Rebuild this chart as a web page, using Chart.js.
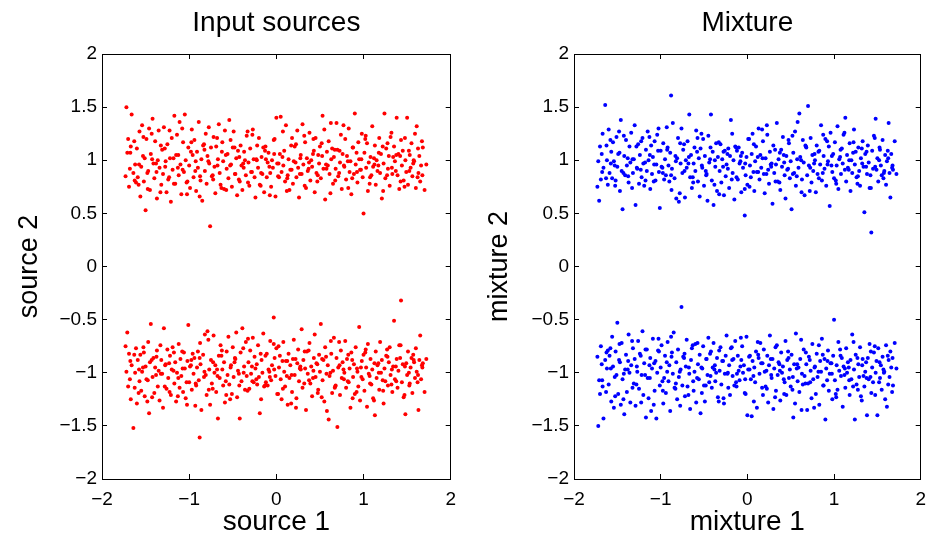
<!DOCTYPE html>
<html>
<head>
<meta charset="utf-8">
<title>Input sources / Mixture</title>
<script src="https://cdn.jsdelivr.net/npm/chart.js@4.4.1/dist/chart.umd.min.js"></script>
<style>
  html, body { margin: 0; padding: 0; background: #fff; }
  #wrap { position: relative; width: 940px; height: 541px; }
  canvas { position: absolute; top: 0; }
  #left { left: 0; }
  #right { left: 470px; }
</style>
</head>
<body>
<div id="wrap">
  <canvas id="left" width="470" height="541"></canvas>
  <canvas id="right" width="470" height="541"></canvas>
</div>
<script>
// ticks
const xTicks = [-2, -1, 0, 1, 2];
const yTicks = [-2, -1.5, -1, -0.5, 0, 0.5, 1, 1.5, 2];

// source points, upper cluster (around +1)
const sourceUpper = [
  [-1.73,0.85],[-1.72,1.50],[-1.71,1.07],[-1.70,1.20],[-1.69,0.75],[-1.67,1.13],[-1.66,1.43],[-1.64,0.88],
  [-1.62,0.96],[-1.61,0.79],[-1.60,1.11],[-1.59,0.84],[-1.57,1.27],[-1.56,0.66],[-1.55,0.94],[-1.54,1.33],
  [-1.52,0.80],[-1.51,1.02],[-1.50,0.53],[-1.49,1.20],[-1.47,0.90],[-1.46,1.30],[-1.45,0.72],[-1.44,1.06],
  [-1.42,1.39],[-1.41,0.97],[-1.40,0.83],[-1.39,1.18],[-1.37,0.64],[-1.36,1.00],[-1.35,1.28],[-1.34,0.93],
  [-1.32,0.77],[-1.31,1.10],[-1.30,0.87],[-1.29,1.31],[-1.27,0.99],[-1.26,0.70],[-1.25,1.15],[-1.24,0.82],
  [-1.22,1.02],[-1.21,0.61],[-1.20,1.21],[-1.19,0.91],[-1.17,1.42],[-1.16,0.78],[-1.15,1.05],[-1.14,1.24],
  [-1.12,0.86],[-1.11,1.36],[-1.10,0.96],[-1.09,0.68],[-1.07,1.17],[-1.06,0.89],[-1.05,1.43],[-1.04,1.00],
  [-1.02,0.80],[-1.01,1.12],[-1.00,0.95],[-0.99,0.74],[-0.97,1.29],[-0.96,1.05],[-0.95,0.84],[-0.94,1.19],
  [-0.92,0.71],[-0.91,1.08],[-0.90,0.93],[-0.89,1.36],[-0.87,0.81],[-0.86,1.01],[-0.85,0.62],[-0.84,1.14],
  [-0.82,0.90],[-0.81,1.25],[-0.80,0.78],[-0.79,1.04],[-0.77,0.97],[-0.76,0.38],[-0.75,1.12],[-0.74,0.85],
  [-0.72,1.22],[-0.71,0.94],[-0.70,0.69],[-0.69,1.13],[-0.67,1.01],[-0.66,1.34],[-0.65,0.88],[-0.64,0.77],
  [-0.62,1.17],[-0.61,0.99],[-0.60,0.73],[-0.59,1.28],[-0.57,0.92],[-0.56,1.06],[-0.55,0.83],[-0.54,1.38],
  [-0.52,0.96],[-0.51,0.75],[-0.50,1.12],[-0.49,1.27],[-0.47,0.87],[-0.46,1.02],[-0.45,0.67],[-0.44,1.09],
  [-0.42,0.80],[-0.41,1.14],[-0.40,0.95],[-0.39,0.72],[-0.37,1.08],[-0.36,1.00],[-0.35,0.86],[-0.34,1.23],
  [-0.32,0.98],[-0.31,0.76],[-0.30,1.11],[-0.29,0.89],[-0.27,1.29],[-0.26,1.01],[-0.25,0.84],[-0.24,0.65],
  [-0.22,1.14],[-0.21,0.93],[-0.20,1.21],[-0.19,0.77],[-0.17,1.03],[-0.16,0.87],[-0.15,1.12],[-0.14,0.70],
  [-0.12,1.01],[-0.11,0.84],[-0.10,0.98],[-0.09,1.07],[-0.07,0.88],[-0.06,0.75],[-0.05,1.00],[-0.04,0.93],
  [-0.02,1.20],[-0.01,0.66],[0.00,1.40],[0.01,0.97],[0.03,0.84],[0.04,1.06],[0.05,1.41],[0.06,0.89],
  [0.08,0.95],[0.09,1.09],[0.10,0.80],[0.11,1.33],[0.13,0.86],[0.14,1.01],[0.15,0.72],[0.16,0.91],
  [0.18,1.21],[0.19,0.78],[0.20,0.99],[0.21,1.13],[0.23,0.84],[0.24,1.28],[0.25,0.93],[0.26,0.65],
  [0.28,1.05],[0.29,0.87],[0.30,1.34],[0.31,0.96],[0.33,1.17],[0.34,0.74],[0.35,1.02],[0.36,0.90],
  [0.38,1.26],[0.39,0.81],[0.40,1.00],[0.41,0.94],[0.43,1.09],[0.44,0.70],[0.45,1.21],[0.46,0.88],
  [0.48,1.05],[0.49,0.97],[0.50,1.13],[0.51,0.83],[0.53,1.42],[0.54,0.92],[0.55,1.29],[0.56,0.63],
  [0.58,1.08],[0.59,0.95],[0.60,1.18],[0.61,0.87],[0.63,1.01],[0.64,1.11],[0.65,0.78],[0.66,1.03],
  [0.68,0.92],[0.69,1.35],[0.70,1.10],[0.71,0.85],[0.73,0.98],[0.74,1.24],[0.75,0.73],[0.76,1.06],
  [0.78,0.94],[0.79,1.20],[0.80,0.82],[0.81,1.04],[0.83,1.30],[0.84,0.89],[0.85,0.99],[0.86,0.68],
  [0.88,1.12],[0.89,0.87],[0.90,1.44],[0.91,0.96],[0.93,0.79],[0.94,1.17],[0.95,1.01],[0.96,0.91],
  [0.98,1.25],[0.99,0.84],[1.00,0.50],[1.01,1.07],[1.03,0.93],[1.04,1.16],[1.05,0.71],[1.06,0.98],
  [1.08,1.03],[1.09,0.86],[1.10,1.32],[1.11,0.94],[1.13,1.14],[1.14,0.77],[1.15,1.00],[1.16,0.90],
  [1.18,1.21],[1.19,0.88],[1.20,1.06],[1.21,0.64],[1.23,0.97],[1.24,1.44],[1.25,0.83],[1.26,1.11],
  [1.28,0.92],[1.29,1.04],[1.30,0.76],[1.31,1.22],[1.33,0.87],[1.34,1.03],[1.35,1.13],[1.36,0.99],
  [1.38,1.40],[1.39,0.86],[1.40,1.06],[1.41,0.73],[1.43,1.19],[1.44,0.95],[1.45,1.09],[1.46,0.81],
  [1.48,1.00],[1.49,0.89],[1.50,1.40],[1.51,0.77],[1.53,1.05],[1.54,0.93],[1.55,1.16],[1.56,0.85],
  [1.58,0.99],[1.59,1.25],[1.60,0.74],[1.61,1.32],[1.63,0.88],[1.64,1.04],[1.65,0.80],[1.66,0.95],
  [1.68,1.12],[1.70,0.72],[1.72,0.96],
  [-1.68,0.92],[-1.63,1.18],[-1.58,0.77],[-1.53,1.04],[-1.48,0.88],[-1.43,1.25],[-1.38,0.97],[-1.33,0.70],[-1.28,1.11],[-1.23,0.84],
  [-1.18,1.02],[-1.13,0.93],[-1.08,1.30],[-1.03,0.79],[-0.98,1.08],[-0.93,0.90],[-0.88,0.66],[-0.83,1.15],[-0.78,0.99],[-0.73,0.86],
  [-0.68,1.21],[-0.63,0.74],[-0.58,1.05],[-0.53,0.95],[-0.48,1.12],[-0.43,0.82],[-0.38,0.97],[-0.33,1.27],[-0.28,0.89],[-0.23,1.01],
  [-0.18,0.76],[-0.13,1.09],[-0.08,0.94],[-0.03,1.19],[0.02,0.85],[0.07,1.03],[0.12,0.71],[0.17,1.14],[0.22,0.98],[0.27,0.87],
  [0.32,1.23],[0.37,0.92],[0.42,1.06],[0.47,0.80],[0.52,1.16],[0.57,0.96],[0.62,0.69],[0.67,1.10],[0.72,0.88],[0.77,1.33],
  [0.82,0.99],[0.87,0.83],[0.92,1.07],[0.97,0.91],[1.02,1.20],[1.07,0.78],[1.12,1.02],[1.17,0.95],[1.22,1.13],[1.27,0.86],
  [1.32,1.26],[1.37,0.90],[1.42,1.04],[1.47,0.75],[1.52,1.09],[1.57,0.97],[1.62,0.84],[1.67,1.18],
  [-1.675,1.07],[-1.625,0.81],[-1.575,0.96],[-1.525,1.22],[-1.475,0.73],[-1.425,1.01],[-1.375,0.89],[-1.325,1.14],[-1.275,0.94],[-1.225,1.28],
  [-1.175,0.78],[-1.125,1.05],[-1.075,0.91],[-1.025,0.68],[-0.975,1.17],[-0.925,0.99],[-0.875,0.85],[-0.825,1.10],[-0.775,1.31],[-0.725,0.82],
  [-0.675,0.95],[-0.625,1.08],[-0.575,0.72],[-0.525,1.19],[-0.475,0.87],[-0.425,1.03],[-0.375,0.93],[-0.325,0.79],[-0.275,1.24],[-0.225,1.00],
  [-0.175,0.88],[-0.125,1.13],[-0.075,0.67],[-0.025,1.06],[0.025,0.97],[0.075,1.27],[0.125,0.83],[0.175,0.91],[0.225,1.15],[0.275,1.02],
  [0.325,0.76],[0.375,0.98],[0.425,1.20],[0.475,0.86],[0.525,1.04],[0.575,0.92],[0.625,1.35],[0.675,0.81],[0.725,1.09],[0.775,0.95],
  [0.825,0.74],[0.875,1.12],[0.925,0.89],[0.975,1.01],[1.025,1.23],[1.075,0.84],[1.125,0.96],[1.175,1.07],[1.225,0.71],[1.275,1.16],
  [1.325,0.93],[1.375,1.05],[1.425,0.80],[1.475,1.21],[1.525,0.90],[1.575,1.00],[1.625,1.11],[1.675,0.86]
];

// source points, lower cluster (around -1)
const sourceLower = [
  [-1.73,-0.75],[-1.72,-0.99],[-1.71,-0.62],[-1.70,-1.13],[-1.69,-0.82],[-1.67,-1.25],[-1.66,-0.93],[-1.64,-1.52],
  [-1.62,-1.00],[-1.61,-0.77],[-1.60,-1.29],[-1.59,-0.88],[-1.57,-1.08],[-1.56,-0.83],[-1.55,-1.17],[-1.54,-0.99],
  [-1.52,-0.81],[-1.51,-1.22],[-1.50,-0.94],[-1.49,-1.06],[-1.47,-0.71],[-1.46,-1.38],[-1.45,-0.90],[-1.44,-0.54],
  [-1.42,-1.04],[-1.41,-0.86],[-1.40,-1.19],[-1.39,-0.95],[-1.37,-0.79],[-1.36,-1.13],[-1.35,-0.98],[-1.34,-1.26],
  [-1.32,-0.88],[-1.31,-1.01],[-1.30,-1.33],[-1.29,-0.58],[-1.27,-0.92],[-1.26,-1.15],[-1.25,-0.78],[-1.24,-1.05],
  [-1.22,-0.84],[-1.21,-1.21],[-1.20,-0.97],[-1.19,-0.76],[-1.17,-1.10],[-1.16,-0.90],[-1.15,-1.27],[-1.14,-1.00],
  [-1.12,-0.73],[-1.11,-1.14],[-1.10,-0.87],[-1.09,-1.03],[-1.07,-1.18],[-1.06,-0.81],[-1.05,-0.96],[-1.04,-1.24],
  [-1.02,-0.89],[-1.01,-0.55],[-1.00,-1.09],[-0.99,-0.94],[-0.97,-1.16],[-0.96,-0.82],[-0.95,-1.01],[-0.94,-0.86],
  [-0.92,-1.12],[-0.91,-0.95],[-0.90,-0.80],[-0.89,-1.07],[-0.88,-1.61],[-0.87,-0.92],[-0.86,-1.35],[-0.84,-0.83],
  [-0.82,-0.64],[-0.81,-1.02],[-0.80,-1.21],[-0.79,-0.61],[-0.77,-0.97],[-0.76,-1.30],[-0.75,-0.88],[-0.74,-1.10],
  [-0.72,-0.65],[-0.71,-1.00],[-0.70,-0.93],[-0.69,-1.18],[-0.67,-1.43],[-0.66,-0.84],[-0.65,-1.05],[-0.64,-0.74],
  [-0.62,-0.97],[-0.61,-1.12],[-0.60,-0.90],[-0.59,-1.28],[-0.57,-0.80],[-0.56,-1.02],[-0.55,-0.66],[-0.54,-1.11],
  [-0.52,-0.93],[-0.51,-1.20],[-0.50,-0.76],[-0.49,-1.04],[-0.47,-0.87],[-0.46,-0.62],[-0.45,-1.23],[-0.44,-0.98],
  [-0.42,-1.43],[-0.41,-0.81],[-0.40,-1.08],[-0.39,-0.58],[-0.37,-0.94],[-0.36,-1.16],[-0.35,-0.71],[-0.34,-1.03],
  [-0.32,-0.90],[-0.31,-1.15],[-0.30,-0.79],[-0.29,-1.01],[-0.27,-0.67],[-0.26,-1.09],[-0.25,-0.85],[-0.24,-0.96],
  [-0.22,-1.11],[-0.21,-0.74],[-0.20,-1.04],[-0.19,-1.38],[-0.17,-0.88],[-0.16,-1.00],[-0.15,-0.63],[-0.14,-1.13],
  [-0.12,-1.09],[-0.11,-0.82],[-0.10,-1.12],[-0.09,-0.97],[-0.07,-0.70],[-0.06,-1.07],[-0.05,-0.93],[-0.03,-0.48],
  [-0.02,-0.86],[-0.01,-1.03],[0.00,-0.77],[0.01,-1.20],[0.03,-0.95],[0.04,-0.84],[0.05,-1.06],[0.06,-1.25],
  [0.08,-0.71],[0.09,-0.99],[0.10,-1.13],[0.11,-0.89],[0.13,-1.30],[0.14,-0.82],[0.15,-1.05],[0.16,-0.93],
  [0.18,-1.18],[0.19,-0.87],[0.20,-0.69],[0.21,-1.02],[0.23,-1.24],[0.24,-0.91],[0.25,-0.78],[0.26,-1.08],
  [0.28,-0.97],[0.29,-0.59],[0.30,-1.14],[0.31,-0.88],[0.33,-0.96],[0.34,-1.35],[0.35,-0.80],[0.36,-1.01],
  [0.38,-0.72],[0.39,-1.10],[0.40,-0.94],[0.41,-1.22],[0.43,-0.86],[0.44,-0.64],[0.45,-1.04],[0.46,-0.91],
  [0.48,-1.16],[0.49,-0.83],[0.50,-0.99],[0.51,-0.54],[0.53,-1.07],[0.54,-0.88],[0.55,-1.27],[0.56,-0.76],
  [0.58,-1.36],[0.59,-0.93],[0.60,-1.44],[0.61,-1.03],[0.63,-0.82],[0.64,-1.19],[0.65,-0.98],[0.66,-0.67],
  [0.68,-1.12],[0.69,-0.86],[0.70,-1.51],[0.71,-0.95],[0.73,-1.21],[0.74,-0.79],[0.75,-1.05],[0.76,-0.90],
  [0.78,-1.00],[0.79,-0.70],[0.80,-1.14],[0.81,-0.87],[0.83,-1.09],[0.84,-0.96],[0.85,-1.33],[0.86,-0.81],
  [0.88,-1.04],[0.89,-0.92],[0.90,-1.20],[0.91,-0.76],[0.93,-0.99],[0.94,-1.13],[0.95,-0.57],[0.96,-1.26],
  [0.98,-0.89],[0.99,-1.06],[1.00,-0.83],[1.01,-1.17],[1.03,-0.95],[1.04,-1.32],[1.05,-0.73],[1.06,-1.01],
  [1.08,-0.87],[1.09,-1.11],[1.10,-0.97],[1.11,-1.24],[1.13,-1.40],[1.14,-0.80],[1.15,-1.05],[1.16,-0.93],
  [1.18,-1.16],[1.19,-0.71],[1.20,-1.00],[1.21,-0.88],[1.23,-1.29],[1.24,-0.96],[1.25,-1.08],[1.26,-0.84],
  [1.28,-1.12],[1.29,-0.90],[1.30,-0.76],[1.31,-1.02],[1.33,-1.18],[1.34,-0.94],[1.35,-0.51],[1.36,-1.06],
  [1.38,-0.87],[1.39,-1.14],[1.40,-0.98],[1.41,-0.74],[1.43,-0.32],[1.44,-1.09],[1.45,-0.92],[1.46,-1.23],
  [1.48,-1.39],[1.49,-0.91],[1.50,-1.02],[1.51,-0.80],[1.53,-1.10],[1.54,-0.95],[1.55,-0.86],[1.56,-1.19],
  [1.58,-0.90],[1.59,-1.05],[1.60,-0.77],[1.61,-0.99],[1.63,-1.35],[1.64,-0.88],[1.65,-0.65],[1.66,-1.06],
  [1.68,-0.91],[1.70,-1.18],[1.72,-0.87],
  [-1.68,-1.06],[-1.63,-0.83],[-1.58,-1.19],[-1.53,-0.95],[-1.48,-1.27],[-1.43,-0.88],[-1.38,-1.02],[-1.33,-0.74],[-1.28,-1.13],[-1.23,-0.91],
  [-1.18,-0.98],[-1.13,-1.22],[-1.08,-0.80],[-1.03,-1.09],[-0.98,-0.93],[-0.93,-1.31],[-0.88,-0.86],[-0.83,-1.04],[-0.78,-0.69],[-0.73,-1.15],
  [-0.68,-0.97],[-0.63,-0.84],[-0.58,-1.08],[-0.53,-1.25],[-0.48,-0.90],[-0.43,-1.01],[-0.38,-0.77],[-0.33,-1.17],[-0.28,-0.94],[-0.23,-1.06],
  [-0.18,-0.82],[-0.13,-1.12],[-0.08,-0.99],[-0.03,-0.73],[0.02,-1.20],[0.07,-0.89],[0.12,-1.03],[0.17,-1.29],[0.22,-0.87],[0.27,-0.96],
  [0.32,-1.10],[0.37,-0.79],[0.42,-1.05],[0.47,-0.92],[0.52,-1.23],[0.57,-0.85],[0.62,-1.00],[0.67,-1.14],[0.72,-0.71],[0.77,-0.97],
  [0.82,-1.08],[0.87,-0.88],[0.92,-1.18],[0.97,-0.95],[1.02,-0.81],[1.07,-1.03],[1.12,-1.26],[1.17,-0.91],[1.22,-1.07],[1.27,-0.78],
  [1.32,-1.11],[1.37,-0.94],[1.42,-0.86],[1.47,-1.21],[1.52,-1.00],[1.57,-0.83],[1.62,-1.09],[1.67,-0.93],
  [-1.675,-0.89],[-1.625,-1.14],[-1.575,-0.97],[-1.525,-0.76],[-1.475,-1.07],[-1.425,-1.23],[-1.375,-0.85],[-1.325,-1.01],[-1.275,-0.93],[-1.225,-1.18],
  [-1.175,-0.81],[-1.125,-1.05],[-1.075,-0.96],[-1.025,-1.30],[-0.975,-0.88],[-0.925,-1.10],[-0.875,-0.72],[-0.825,-0.99],[-0.775,-1.16],[-0.725,-0.90],
  [-0.675,-1.03],[-0.625,-0.79],[-0.575,-1.21],[-0.525,-0.95],[-0.475,-0.86],[-0.425,-1.12],[-0.375,-1.00],[-0.325,-0.68],[-0.275,-1.08],[-0.225,-0.92],
  [-0.175,-1.25],[-0.125,-0.84],[-0.075,-1.04],[-0.025,-0.97],[0.025,-0.75],[0.075,-1.15],[0.125,-0.89],[0.175,-1.02],[0.225,-1.33],[0.275,-0.94],
  [0.325,-0.80],[0.375,-1.07],[0.425,-0.98],[0.475,-1.19],[0.525,-0.87],[0.575,-1.01],[0.625,-0.70],[0.675,-1.13],[0.725,-0.93],[0.775,-1.06],
  [0.825,-0.83],[0.875,-1.24],[0.925,-0.96],[0.975,-1.04],[1.025,-0.78],[1.075,-1.10],[1.125,-0.91],[1.175,-1.00],[1.225,-1.17],[1.275,-0.85],
  [1.325,-0.97],[1.375,-1.08],[1.425,-0.74],[1.475,-0.94],[1.525,-1.12],[1.575,-0.88],[1.625,-1.02],[1.675,-0.95]
];

// mixture points, upper cluster (around +1)
const mixtureUpper = [
  [-1.73,0.75],[-1.72,0.99],[-1.71,0.62],[-1.70,1.13],[-1.69,0.82],[-1.67,1.25],[-1.66,0.93],[-1.64,1.52],
  [-1.62,1.00],[-1.61,0.77],[-1.60,1.29],[-1.59,0.88],[-1.57,1.08],[-1.56,0.83],[-1.55,1.17],[-1.54,0.99],
  [-1.52,0.81],[-1.51,1.22],[-1.50,0.94],[-1.49,1.06],[-1.47,0.71],[-1.46,1.38],[-1.45,0.90],[-1.44,0.54],
  [-1.42,1.04],[-1.41,0.86],[-1.40,1.19],[-1.39,0.95],[-1.37,0.79],[-1.36,1.13],[-1.35,0.98],[-1.34,1.26],
  [-1.32,0.88],[-1.31,1.01],[-1.30,1.33],[-1.29,0.58],[-1.27,0.92],[-1.26,1.15],[-1.25,0.78],[-1.24,1.05],
  [-1.22,0.84],[-1.21,1.21],[-1.20,0.97],[-1.19,0.76],[-1.17,1.10],[-1.16,0.90],[-1.15,1.27],[-1.14,1.00],
  [-1.12,0.73],[-1.11,1.14],[-1.10,0.87],[-1.09,1.03],[-1.07,1.18],[-1.06,0.81],[-1.05,0.96],[-1.04,1.24],
  [-1.02,0.89],[-1.01,0.55],[-1.00,1.09],[-0.99,0.94],[-0.97,1.16],[-0.96,0.82],[-0.95,1.01],[-0.94,0.86],
  [-0.92,1.12],[-0.91,0.95],[-0.90,0.80],[-0.89,1.07],[-0.88,1.61],[-0.87,0.92],[-0.86,1.35],[-0.84,0.83],
  [-0.82,0.64],[-0.81,1.02],[-0.80,1.21],[-0.79,0.61],[-0.77,0.97],[-0.76,1.30],[-0.75,0.88],[-0.74,1.10],
  [-0.72,0.65],[-0.71,1.00],[-0.70,0.93],[-0.69,1.18],[-0.67,1.43],[-0.66,0.84],[-0.65,1.05],[-0.64,0.74],
  [-0.62,0.97],[-0.61,1.12],[-0.60,0.90],[-0.59,1.28],[-0.57,0.80],[-0.56,1.02],[-0.55,0.66],[-0.54,1.11],
  [-0.52,0.93],[-0.51,1.20],[-0.50,0.76],[-0.49,1.04],[-0.47,0.87],[-0.46,0.62],[-0.45,1.23],[-0.44,0.98],
  [-0.42,1.43],[-0.41,0.81],[-0.40,1.08],[-0.39,0.58],[-0.37,0.94],[-0.36,1.16],[-0.35,0.71],[-0.34,1.03],
  [-0.32,0.90],[-0.31,1.15],[-0.30,0.79],[-0.29,1.01],[-0.27,0.67],[-0.26,1.09],[-0.25,0.85],[-0.24,0.96],
  [-0.22,1.11],[-0.21,0.74],[-0.20,1.04],[-0.19,1.38],[-0.17,0.88],[-0.16,1.00],[-0.15,0.63],[-0.14,1.13],
  [-0.12,1.09],[-0.11,0.82],[-0.10,1.12],[-0.09,0.97],[-0.07,0.70],[-0.06,1.07],[-0.05,0.93],[-0.03,0.48],
  [-0.02,0.86],[-0.01,1.03],[0.00,0.77],[0.01,1.20],[0.03,0.95],[0.04,0.84],[0.05,1.06],[0.06,1.25],
  [0.08,0.71],[0.09,0.99],[0.10,1.13],[0.11,0.89],[0.13,1.30],[0.14,0.82],[0.15,1.05],[0.16,0.93],
  [0.18,1.18],[0.19,0.87],[0.20,0.69],[0.21,1.02],[0.23,1.24],[0.24,0.91],[0.25,0.78],[0.26,1.08],
  [0.28,0.97],[0.29,0.59],[0.30,1.14],[0.31,0.88],[0.33,0.96],[0.34,1.35],[0.35,0.80],[0.36,1.01],
  [0.38,0.72],[0.39,1.10],[0.40,0.94],[0.41,1.22],[0.43,0.86],[0.44,0.64],[0.45,1.04],[0.46,0.91],
  [0.48,1.16],[0.49,0.83],[0.50,0.99],[0.51,0.54],[0.53,1.07],[0.54,0.88],[0.55,1.27],[0.56,0.76],
  [0.58,1.36],[0.59,0.93],[0.60,1.44],[0.61,1.03],[0.63,0.82],[0.64,1.19],[0.65,0.98],[0.66,0.67],
  [0.68,1.12],[0.69,0.86],[0.70,1.51],[0.71,0.95],[0.73,1.21],[0.74,0.79],[0.75,1.05],[0.76,0.90],
  [0.78,1.00],[0.79,0.70],[0.80,1.14],[0.81,0.87],[0.83,1.09],[0.84,0.96],[0.85,1.33],[0.86,0.81],
  [0.88,1.04],[0.89,0.92],[0.90,1.20],[0.91,0.76],[0.93,0.99],[0.94,1.13],[0.95,0.57],[0.96,1.26],
  [0.98,0.89],[0.99,1.06],[1.00,0.83],[1.01,1.17],[1.03,0.95],[1.04,1.32],[1.05,0.73],[1.06,1.01],
  [1.08,0.87],[1.09,1.11],[1.10,0.97],[1.11,1.24],[1.13,1.40],[1.14,0.80],[1.15,1.05],[1.16,0.93],
  [1.18,1.16],[1.19,0.71],[1.20,1.00],[1.21,0.88],[1.23,1.29],[1.24,0.96],[1.25,1.08],[1.26,0.84],
  [1.28,1.12],[1.29,0.90],[1.30,0.76],[1.31,1.02],[1.33,1.18],[1.34,0.94],[1.35,0.51],[1.36,1.06],
  [1.38,0.87],[1.39,1.14],[1.40,0.98],[1.41,0.74],[1.43,0.32],[1.44,1.09],[1.45,0.92],[1.46,1.23],
  [1.48,1.39],[1.49,0.91],[1.50,1.02],[1.51,0.80],[1.53,1.10],[1.54,0.95],[1.55,0.86],[1.56,1.19],
  [1.58,0.90],[1.59,1.05],[1.60,0.77],[1.61,0.99],[1.63,1.35],[1.64,0.88],[1.65,0.65],[1.66,1.06],
  [1.68,0.91],[1.70,1.18],[1.72,0.87],
  [-1.68,1.06],[-1.63,0.83],[-1.58,1.19],[-1.53,0.95],[-1.48,1.27],[-1.43,0.88],[-1.38,1.02],[-1.33,0.74],[-1.28,1.13],[-1.23,0.91],
  [-1.18,0.98],[-1.13,1.22],[-1.08,0.80],[-1.03,1.09],[-0.98,0.93],[-0.93,1.31],[-0.88,0.86],[-0.83,1.04],[-0.78,0.69],[-0.73,1.15],
  [-0.68,0.97],[-0.63,0.84],[-0.58,1.08],[-0.53,1.25],[-0.48,0.90],[-0.43,1.01],[-0.38,0.77],[-0.33,1.17],[-0.28,0.94],[-0.23,1.06],
  [-0.18,0.82],[-0.13,1.12],[-0.08,0.99],[-0.03,0.73],[0.02,1.20],[0.07,0.89],[0.12,1.03],[0.17,1.29],[0.22,0.87],[0.27,0.96],
  [0.32,1.10],[0.37,0.79],[0.42,1.05],[0.47,0.92],[0.52,1.23],[0.57,0.85],[0.62,1.00],[0.67,1.14],[0.72,0.71],[0.77,0.97],
  [0.82,1.08],[0.87,0.88],[0.92,1.18],[0.97,0.95],[1.02,0.81],[1.07,1.03],[1.12,1.26],[1.17,0.91],[1.22,1.07],[1.27,0.78],
  [1.32,1.11],[1.37,0.94],[1.42,0.86],[1.47,1.21],[1.52,1.00],[1.57,0.83],[1.62,1.09],[1.67,0.93],
  [-1.675,0.89],[-1.625,1.14],[-1.575,0.97],[-1.525,0.76],[-1.475,1.07],[-1.425,1.23],[-1.375,0.85],[-1.325,1.01],[-1.275,0.93],[-1.225,1.18],
  [-1.175,0.81],[-1.125,1.05],[-1.075,0.96],[-1.025,1.30],[-0.975,0.88],[-0.925,1.10],[-0.875,0.72],[-0.825,0.99],[-0.775,1.16],[-0.725,0.90],
  [-0.675,1.03],[-0.625,0.79],[-0.575,1.21],[-0.525,0.95],[-0.475,0.86],[-0.425,1.12],[-0.375,1.00],[-0.325,0.68],[-0.275,1.08],[-0.225,0.92],
  [-0.175,1.25],[-0.125,0.84],[-0.075,1.04],[-0.025,0.97],[0.025,0.75],[0.075,1.15],[0.125,0.89],[0.175,1.02],[0.225,1.33],[0.275,0.94],
  [0.325,0.80],[0.375,1.07],[0.425,0.98],[0.475,1.19],[0.525,0.87],[0.575,1.01],[0.625,0.70],[0.675,1.13],[0.725,0.93],[0.775,1.06],
  [0.825,0.83],[0.875,1.24],[0.925,0.96],[0.975,1.04],[1.025,0.78],[1.075,1.10],[1.125,0.91],[1.175,1.00],[1.225,1.17],[1.275,0.85],
  [1.325,0.97],[1.375,1.08],[1.425,0.74],[1.475,0.94],[1.525,1.12],[1.575,0.88],[1.625,1.02],[1.675,0.95]
];

// mixture points, lower cluster (around -1)
const mixtureLower = [
  [-1.73,-0.85],[-1.72,-1.50],[-1.71,-1.07],[-1.70,-1.20],[-1.69,-0.75],[-1.67,-1.13],[-1.66,-1.43],[-1.64,-0.88],
  [-1.62,-0.96],[-1.61,-0.79],[-1.60,-1.11],[-1.59,-0.84],[-1.57,-1.27],[-1.56,-0.66],[-1.55,-0.94],[-1.54,-1.33],
  [-1.52,-0.80],[-1.51,-1.02],[-1.50,-0.53],[-1.49,-1.20],[-1.47,-0.90],[-1.46,-1.30],[-1.45,-0.72],[-1.44,-1.06],
  [-1.42,-1.39],[-1.41,-0.97],[-1.40,-0.83],[-1.39,-1.18],[-1.37,-0.64],[-1.36,-1.00],[-1.35,-1.28],[-1.34,-0.93],
  [-1.32,-0.77],[-1.31,-1.10],[-1.30,-0.87],[-1.29,-1.31],[-1.27,-0.99],[-1.26,-0.70],[-1.25,-1.15],[-1.24,-0.82],
  [-1.22,-1.02],[-1.21,-0.61],[-1.20,-1.21],[-1.19,-0.91],[-1.17,-1.42],[-1.16,-0.78],[-1.15,-1.05],[-1.14,-1.24],
  [-1.12,-0.86],[-1.11,-1.36],[-1.10,-0.96],[-1.09,-0.68],[-1.07,-1.17],[-1.06,-0.89],[-1.05,-1.43],[-1.04,-1.00],
  [-1.02,-0.80],[-1.01,-1.12],[-1.00,-0.95],[-0.99,-0.74],[-0.97,-1.29],[-0.96,-1.05],[-0.95,-0.84],[-0.94,-1.19],
  [-0.92,-0.71],[-0.91,-1.08],[-0.90,-0.93],[-0.89,-1.36],[-0.87,-0.81],[-0.86,-1.01],[-0.85,-0.62],[-0.84,-1.14],
  [-0.82,-0.90],[-0.81,-1.25],[-0.80,-0.78],[-0.79,-1.04],[-0.77,-0.97],[-0.76,-0.38],[-0.75,-1.12],[-0.74,-0.85],
  [-0.72,-1.22],[-0.71,-0.94],[-0.70,-0.69],[-0.69,-1.13],[-0.67,-1.01],[-0.66,-1.34],[-0.65,-0.88],[-0.64,-0.77],
  [-0.62,-1.17],[-0.61,-0.99],[-0.60,-0.73],[-0.59,-1.28],[-0.57,-0.92],[-0.56,-1.06],[-0.55,-0.83],[-0.54,-1.38],
  [-0.52,-0.96],[-0.51,-0.75],[-0.50,-1.12],[-0.49,-1.27],[-0.47,-0.87],[-0.46,-1.02],[-0.45,-0.67],[-0.44,-1.09],
  [-0.42,-0.80],[-0.41,-1.14],[-0.40,-0.95],[-0.39,-0.72],[-0.37,-1.08],[-0.36,-1.00],[-0.35,-0.86],[-0.34,-1.23],
  [-0.32,-0.98],[-0.31,-0.76],[-0.30,-1.11],[-0.29,-0.89],[-0.27,-1.29],[-0.26,-1.01],[-0.25,-0.84],[-0.24,-0.65],
  [-0.22,-1.14],[-0.21,-0.93],[-0.20,-1.21],[-0.19,-0.77],[-0.17,-1.03],[-0.16,-0.87],[-0.15,-1.12],[-0.14,-0.70],
  [-0.12,-1.01],[-0.11,-0.84],[-0.10,-0.98],[-0.09,-1.07],[-0.07,-0.88],[-0.06,-0.75],[-0.05,-1.00],[-0.04,-0.93],
  [-0.02,-1.20],[-0.01,-0.66],[0.00,-1.40],[0.01,-0.97],[0.03,-0.84],[0.04,-1.06],[0.05,-1.41],[0.06,-0.89],
  [0.08,-0.95],[0.09,-1.09],[0.10,-0.80],[0.11,-1.33],[0.13,-0.86],[0.14,-1.01],[0.15,-0.72],[0.16,-0.91],
  [0.18,-1.21],[0.19,-0.78],[0.20,-0.99],[0.21,-1.13],[0.23,-0.84],[0.24,-1.28],[0.25,-0.93],[0.26,-0.65],
  [0.28,-1.05],[0.29,-0.87],[0.30,-1.34],[0.31,-0.96],[0.33,-1.17],[0.34,-0.74],[0.35,-1.02],[0.36,-0.90],
  [0.38,-1.26],[0.39,-0.81],[0.40,-1.00],[0.41,-0.94],[0.43,-1.09],[0.44,-0.70],[0.45,-1.21],[0.46,-0.88],
  [0.48,-1.05],[0.49,-0.97],[0.50,-1.13],[0.51,-0.83],[0.53,-1.42],[0.54,-0.92],[0.55,-1.29],[0.56,-0.63],
  [0.58,-1.08],[0.59,-0.95],[0.60,-1.18],[0.61,-0.87],[0.63,-1.01],[0.64,-1.11],[0.65,-0.78],[0.66,-1.03],
  [0.68,-0.92],[0.69,-1.35],[0.70,-1.10],[0.71,-0.85],[0.73,-0.98],[0.74,-1.24],[0.75,-0.73],[0.76,-1.06],
  [0.78,-0.94],[0.79,-1.20],[0.80,-0.82],[0.81,-1.04],[0.83,-1.30],[0.84,-0.89],[0.85,-0.99],[0.86,-0.68],
  [0.88,-1.12],[0.89,-0.87],[0.90,-1.44],[0.91,-0.96],[0.93,-0.79],[0.94,-1.17],[0.95,-1.01],[0.96,-0.91],
  [0.98,-1.25],[0.99,-0.84],[1.00,-0.50],[1.01,-1.07],[1.03,-0.93],[1.04,-1.16],[1.05,-0.71],[1.06,-0.98],
  [1.08,-1.03],[1.09,-0.86],[1.10,-1.32],[1.11,-0.94],[1.13,-1.14],[1.14,-0.77],[1.15,-1.00],[1.16,-0.90],
  [1.18,-1.21],[1.19,-0.88],[1.20,-1.06],[1.21,-0.64],[1.23,-0.97],[1.24,-1.44],[1.25,-0.83],[1.26,-1.11],
  [1.28,-0.92],[1.29,-1.04],[1.30,-0.76],[1.31,-1.22],[1.33,-0.87],[1.34,-1.03],[1.35,-1.13],[1.36,-0.99],
  [1.38,-1.40],[1.39,-0.86],[1.40,-1.06],[1.41,-0.73],[1.43,-1.19],[1.44,-0.95],[1.45,-1.09],[1.46,-0.81],
  [1.48,-1.00],[1.49,-0.89],[1.50,-1.40],[1.51,-0.77],[1.53,-1.05],[1.54,-0.93],[1.55,-1.16],[1.56,-0.85],
  [1.58,-0.99],[1.59,-1.25],[1.60,-0.74],[1.61,-1.32],[1.63,-0.88],[1.64,-1.04],[1.65,-0.80],[1.66,-0.95],
  [1.68,-1.12],[1.70,-0.72],[1.72,-0.96],
  [-1.68,-0.92],[-1.63,-1.18],[-1.58,-0.77],[-1.53,-1.04],[-1.48,-0.88],[-1.43,-1.25],[-1.38,-0.97],[-1.33,-0.70],[-1.28,-1.11],[-1.23,-0.84],
  [-1.18,-1.02],[-1.13,-0.93],[-1.08,-1.30],[-1.03,-0.79],[-0.98,-1.08],[-0.93,-0.90],[-0.88,-0.66],[-0.83,-1.15],[-0.78,-0.99],[-0.73,-0.86],
  [-0.68,-1.21],[-0.63,-0.74],[-0.58,-1.05],[-0.53,-0.95],[-0.48,-1.12],[-0.43,-0.82],[-0.38,-0.97],[-0.33,-1.27],[-0.28,-0.89],[-0.23,-1.01],
  [-0.18,-0.76],[-0.13,-1.09],[-0.08,-0.94],[-0.03,-1.19],[0.02,-0.85],[0.07,-1.03],[0.12,-0.71],[0.17,-1.14],[0.22,-0.98],[0.27,-0.87],
  [0.32,-1.23],[0.37,-0.92],[0.42,-1.06],[0.47,-0.80],[0.52,-1.16],[0.57,-0.96],[0.62,-0.69],[0.67,-1.10],[0.72,-0.88],[0.77,-1.33],
  [0.82,-0.99],[0.87,-0.83],[0.92,-1.07],[0.97,-0.91],[1.02,-1.20],[1.07,-0.78],[1.12,-1.02],[1.17,-0.95],[1.22,-1.13],[1.27,-0.86],
  [1.32,-1.26],[1.37,-0.90],[1.42,-1.04],[1.47,-0.75],[1.52,-1.09],[1.57,-0.97],[1.62,-0.84],[1.67,-1.18],
  [-1.675,-1.07],[-1.625,-0.81],[-1.575,-0.96],[-1.525,-1.22],[-1.475,-0.73],[-1.425,-1.01],[-1.375,-0.89],[-1.325,-1.14],[-1.275,-0.94],[-1.225,-1.28],
  [-1.175,-0.78],[-1.125,-1.05],[-1.075,-0.91],[-1.025,-0.68],[-0.975,-1.17],[-0.925,-0.99],[-0.875,-0.85],[-0.825,-1.10],[-0.775,-1.31],[-0.725,-0.82],
  [-0.675,-0.95],[-0.625,-1.08],[-0.575,-0.72],[-0.525,-1.19],[-0.475,-0.87],[-0.425,-1.03],[-0.375,-0.93],[-0.325,-0.79],[-0.275,-1.24],[-0.225,-1.00],
  [-0.175,-0.88],[-0.125,-1.13],[-0.075,-0.67],[-0.025,-1.06],[0.025,-0.97],[0.075,-1.27],[0.125,-0.83],[0.175,-0.91],[0.225,-1.15],[0.275,-1.02],
  [0.325,-0.76],[0.375,-0.98],[0.425,-1.20],[0.475,-0.86],[0.525,-1.04],[0.575,-0.92],[0.625,-1.35],[0.675,-0.81],[0.725,-1.09],[0.775,-0.95],
  [0.825,-0.74],[0.875,-1.12],[0.925,-0.89],[0.975,-1.01],[1.025,-1.23],[1.075,-0.84],[1.125,-0.96],[1.175,-1.07],[1.225,-0.71],[1.275,-1.16],
  [1.325,-0.93],[1.375,-1.05],[1.425,-0.80],[1.475,-1.21],[1.525,-0.90],[1.575,-1.00],[1.625,-1.11],[1.675,-0.86]
];

Chart.defaults.font.family = "'Liberation Sans', Arial, Helvetica, sans-serif";
Chart.defaults.color = '#000';

const minus = v => String(v).replace('-', '\u2212');
const toPts = arr => arr.map(p => ({ x: p[0], y: p[1] }));

// inside tick marks (MATLAB style), negative tickLength points them into the plot
function tickGrid() {
    return { drawOnChartArea: false, drawTicks: true, tickLength: -5, color: '#000', lineWidth: 1 };
}

function makeChart(id, title, xLabel, yLabel, color, sets, yAxisWidth, rightPad) {
    const ctx = document.getElementById(id).getContext('2d');
    return new Chart(ctx, {
        type: 'scatter',
        data: {
            datasets: sets.map(s => ({
                data: toPts(s),
                backgroundColor: color,
                borderWidth: 0,
                pointRadius: 2,
                pointHoverRadius: 2
            }))
        },
        options: {
            responsive: false,
            animation: false,
            events: [],
            layout: { padding: { left: 0, right: rightPad, top: 0, bottom: 0 } },
            plugins: {
                legend: { display: false },
                tooltip: { enabled: false }
            },
            scales: {
                x: {
                    type: 'linear', position: 'bottom', min: -2, max: 2,
                    afterBuildTicks: s => { s.ticks = xTicks.map(v => ({ value: v })); },
                    afterFit: s => { s.height = 62; },
                    grid: tickGrid(),
                    border: { display: true, color: '#000', width: 1 },
                    ticks: { padding: 14, font: { size: 19 }, color: '#000', maxRotation: 0, autoSkip: false, callback: minus },
                    title: { display: true, text: xLabel, font: { size: 28 }, color: '#000', padding: { top: 0, bottom: 2 } }
                },
                y: {
                    type: 'linear', position: 'left', min: -2, max: 2,
                    afterBuildTicks: s => { s.ticks = yTicks.map(v => ({ value: v })); },
                    afterFit: s => { s.width = yAxisWidth; },
                    grid: tickGrid(),
                    border: { display: true, color: '#000', width: 1 },
                    ticks: { padding: 10, font: { size: 19 }, color: '#000', autoSkip: false, callback: minus },
                    title: { display: true, text: yLabel, font: { size: 27 }, color: '#000', padding: { top: 13, bottom: 0 } }
                },
                // top axis: mirrored ticks and the plot title, centred over the plot box
                x2: {
                    type: 'linear', axis: 'x', position: 'top', min: -2, max: 2,
                    afterBuildTicks: s => { s.ticks = xTicks.map(v => ({ value: v })); },
                    afterFit: s => { s.height = 54; },
                    grid: tickGrid(),
                    border: { display: true, color: '#000', width: 1 },
                    ticks: { display: false },
                    title: { display: true, text: title, font: { size: 28 }, color: '#000', padding: { top: 6, bottom: 0 } }
                },
                y2: {
                    type: 'linear', axis: 'y', position: 'right', min: -2, max: 2,
                    afterBuildTicks: s => { s.ticks = yTicks.map(v => ({ value: v })); },
                    afterFit: s => { s.width = 0; },
                    grid: tickGrid(),
                    border: { display: true, color: '#000', width: 1 },
                    ticks: { display: false }
                }
            }
        }
    });
}

makeChart('left', 'Input sources', 'source 1', 'source 2', '#ff0000', [sourceUpper, sourceLower], 102, 8);
makeChart('right', 'Mixture', 'mixture 1', 'mixture 2', '#0000ff', [mixtureUpper, mixtureLower], 104, 6);
</script>
</body>
</html>
